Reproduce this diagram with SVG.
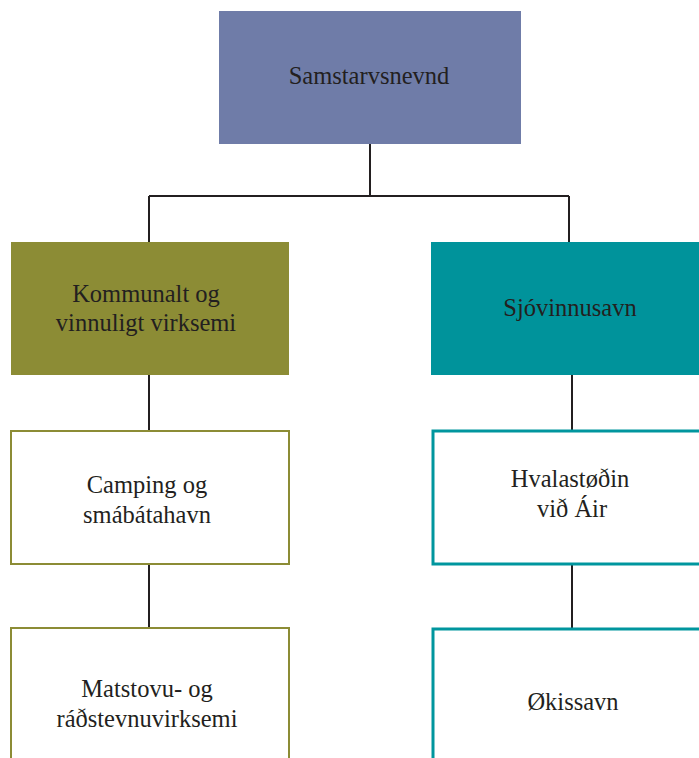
<svg xmlns="http://www.w3.org/2000/svg" width="699" height="758" viewBox="0 0 699 758">
<style>
text{font-family:"Liberation Serif","Times New Roman",serif;font-size:24.5px;fill:#231f20;text-anchor:middle}
.ln{stroke:#231f20;stroke-width:2;fill:none}
.wo{fill:#fff;stroke:#8c8c35;stroke-width:2}
.wt{fill:#fff;stroke:#00969e;stroke-width:3}
</style>
<rect width="699" height="758" fill="#fff"/>
<g id="connectors">
<path class="ln" d="M370 144V196M149 196H569M149 196V242M569 196V242"/>
<path class="ln" d="M149 375V431M149 564V628"/>
<path class="ln" d="M572 375V431M572 564V628"/>
</g>
<g id="samstarvsnevnd">
<rect x="219" y="11" width="302" height="133" fill="#6f7ca8"/>
<text x="369" y="84">Samstarvsnevnd</text>
</g>
<g id="kommunalt">
<rect x="11" y="242" width="278" height="133" fill="#8c8c35"/>
<text x="146" y="302">Kommunalt og</text>
<text x="146" y="331">vinnuligt virksemi</text>
</g>
<g id="sjovinnusavn">
<rect x="431" y="242" width="270" height="133" fill="#00939b"/>
<text x="570" y="316">Sjóvinnusavn</text>
</g>
<g id="camping">
<rect class="wo" x="11" y="431" width="278" height="133"/>
<text x="147" y="493">Camping og</text>
<text x="147" y="523">smábátahavn</text>
</g>
<g id="matstovu">
<rect class="wo" x="11" y="628" width="278" height="140"/>
<text x="147" y="697">Matstovu- og</text>
<text x="147" y="727">ráðstevnuvirksemi</text>
</g>
<g id="hvalastodin">
<rect class="wt" x="433" y="431" width="275" height="133"/>
<text x="570" y="487">Hvalastøðin</text>
<text x="572" y="517">við Áir</text>
</g>
<g id="okissavn">
<rect class="wt" x="433" y="629" width="275" height="140"/>
<text x="573" y="710">Økissavn</text>
</g>
</svg>
